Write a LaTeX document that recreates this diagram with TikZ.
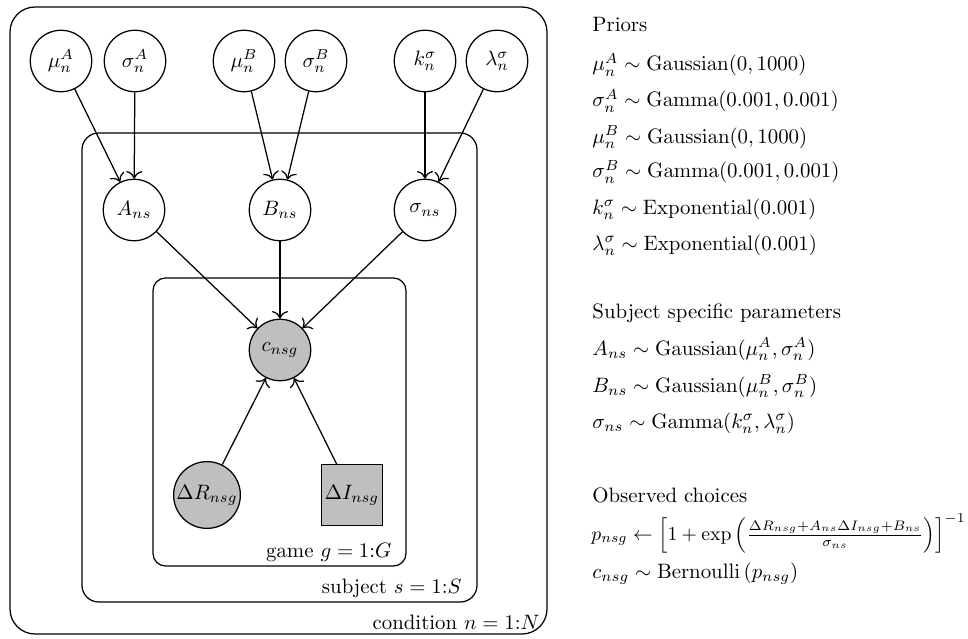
\documentclass[tikz,border=0pt]{standalone}
\usepackage{amsmath}
\usepackage{graphicx}
\usetikzlibrary{arrows.meta}
\begin{document}
\begin{tikzpicture}[x=0.48pt,y=-0.48pt,
  latent/.style={circle,draw,line width=0.6pt,minimum size=29.5pt,inner sep=0.5pt},
  obsc/.style={latent,fill=gray!50},
  obsr/.style={rectangle,draw,line width=0.6pt,fill=gray!50,minimum size=29pt,inner sep=1pt},
  plate/.style={draw,line width=0.6pt},
  edge/.style={-{To[scale=1.25]},line width=0.6pt},
  eq/.style={anchor=base west,inner sep=0pt}]
\useasboundingbox (0,0) rectangle (968,639);
% plates
\draw[plate,rounded corners=12pt] (10,7) rectangle (547,634);
\draw[plate,rounded corners=8pt] (82,133) rectangle (477,602);
\draw[plate,rounded corners=6pt] (153,278) rectangle (406,566);
\node[anchor=base east,inner sep=0pt] (lgame) at (392,557) {game $g=1{:}G$};
\node[anchor=base east,inner sep=0pt] (lsubj) at (462,593) {subject $s=1{:}S$};
\node[anchor=base east,inner sep=0pt] (lcond) at (540,629) {condition $n=1{:}N$};
% top row
\node[latent] (muA) at (61,61) {$\mu_n^A$};
\node[latent] (sgA) at (135,61) {$\sigma_n^A$};
\node[latent] (muB) at (244,61) {$\mu_n^B$};
\node[latent] (sgB) at (316,61) {$\sigma_n^B$};
\node[latent] (ks) at (425,61) {$k_n^\sigma$};
\node[latent] (ls) at (497,61) {$\lambda_n^\sigma$};
% second row
\node[latent] (A) at (134,210) {$A_{ns}$};
\node[latent] (B) at (280,210) {$B_{ns}$};
\node[latent] (S) at (425,210) {$\sigma_{ns}$};
% game
\node[obsc] (c) at (280,350) {$c_{nsg}$};
\node[obsc] (dR) at (207,495) {$\Delta R_{nsg}$};
\node[obsr] (dI) at (352,495) {$\Delta I_{nsg}$};
% edges
\draw[edge] (muA) -- (A);
\draw[edge] (sgA) -- (A);
\draw[edge] (muB) -- (B);
\draw[edge] (sgB) -- (B);
\draw[edge] (ks) -- (S);
\draw[edge] (ls) -- (S);
\draw[edge] (A) -- (c);
\draw[edge] (B) -- (c);
\draw[edge] (S) -- (c);
\draw[edge] (dR) -- (c);
\draw[edge] (dI) -- (c);
% equations
\node[eq] (t1) at (592,32) {Priors};
\node[eq] (e1) at (592,71) {$\mu_n^A \sim \mathrm{Gaussian}(0,1000)$};
\node[eq] (e2) at (592,107) {$\sigma_n^A \sim \mathrm{Gamma}(0.001,0.001)$};
\node[eq] (e3) at (592,143) {$\mu_n^B \sim \mathrm{Gaussian}(0,1000)$};
\node[eq] (e4) at (592,178) {$\sigma_n^B \sim \mathrm{Gamma}(0.001,0.001)$};
\node[eq] (e5) at (592,214) {$k_n^\sigma \sim \mathrm{Exponential}(0.001)$};
\node[eq] (e6) at (592,250) {$\lambda_n^\sigma \sim \mathrm{Exponential}(0.001)$};
\node[eq] (t2) at (592,318) {Subject specific parameters};
\node[eq] (e7) at (592,355) {$A_{ns} \sim \mathrm{Gaussian}(\mu_n^A,\sigma_n^A)$};
\node[eq] (e8) at (592,392) {$B_{ns} \sim \mathrm{Gaussian}(\mu_n^B,\sigma_n^B)$};
\node[eq] (e9) at (592,428) {$\sigma_{ns} \sim \mathrm{Gamma}(k_n^\sigma,\lambda_n^\sigma)$};
\node[eq] (t3) at (592,502) {Observed choices};
\node[anchor=base east,inner sep=0pt] (e10) at (966,540) {\scalebox{0.945}{$p_{nsg} \leftarrow \Bigl[1+\exp\left(\frac{\Delta R_{nsg}+A_{ns}\Delta I_{nsg}+B_{ns}}{\sigma_{ns}}\right)\Bigr]^{-1}$}};
\node[eq] (e11) at (592,578) {$c_{nsg} \sim \mathrm{Bernoulli}\left(p_{nsg}\right)$};
\end{tikzpicture}
\end{document}
